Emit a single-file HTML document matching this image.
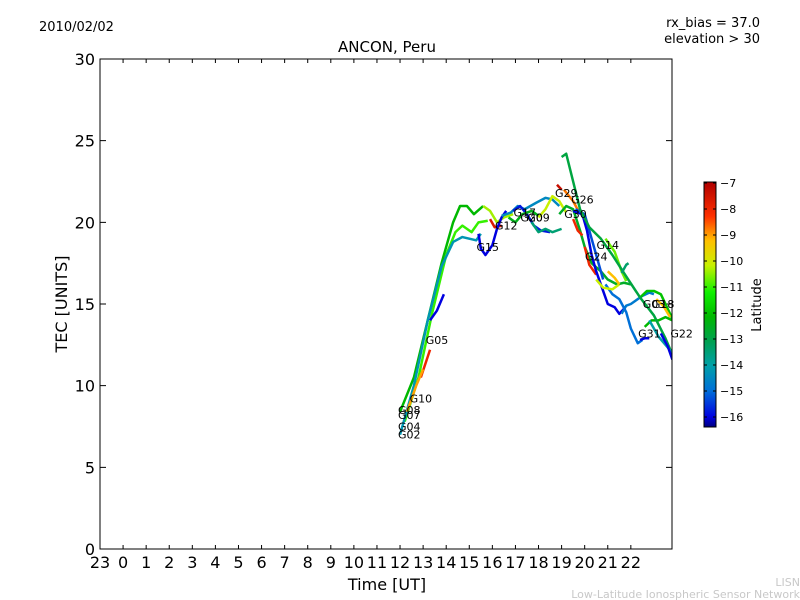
<!DOCTYPE html>
<html><head><meta charset="utf-8"><style>
body{margin:0;background:#fff;}
svg{display:block;font-family:"DejaVu Sans","Liberation Sans",sans-serif;}
</style></head><body>
<svg id="chart" width="800" height="600" viewBox="0 0 800 600">
<defs>
<linearGradient id="cbg" x1="0" y1="1" x2="0" y2="0">
<stop offset="0" stop-color="#00007f"/><stop offset="0.04" stop-color="#0000e0"/>
<stop offset="0.15" stop-color="#0070d8"/><stop offset="0.25" stop-color="#00a0a8"/>
<stop offset="0.35" stop-color="#00a050"/><stop offset="0.45" stop-color="#00b800"/>
<stop offset="0.55" stop-color="#10f000"/><stop offset="0.66" stop-color="#c8f000"/>
<stop offset="0.76" stop-color="#ffc000"/><stop offset="0.86" stop-color="#ff3000"/>
<stop offset="1" stop-color="#b00000"/></linearGradient>
<clipPath id="pc"><rect x="100" y="59" width="572" height="490"/></clipPath>
</defs>
<text x="39" y="31" font-size="13">2010/02/02</text>
<text x="760" y="27" font-size="13" text-anchor="end">rx_bias = 37.0</text>
<text x="760" y="43" font-size="13" text-anchor="end">elevation &gt; 30</text>
<text x="387" y="52" font-size="15" text-anchor="middle">ANCON, Peru</text>
<text x="387" y="590" font-size="16" text-anchor="middle">Time [UT]</text>
<text x="67" y="304" font-size="16" text-anchor="middle" transform="rotate(-90 67 304)">TEC [UNITS]</text>
<text x="800" y="586" font-size="11" fill="#c8c8c8" text-anchor="end">LISN</text>
<text x="800" y="598" font-size="11" fill="#c8c8c8" text-anchor="end">Low-Latitude Ionospheric Sensor Network</text>
<g id="axes"></g>
<g id="series" clip-path="url(#pc)"></g>
<g id="labels"></g>
<rect x="100" y="59" width="572" height="490" fill="none" stroke="#000" stroke-width="1"/>
<rect x="704" y="182" width="12" height="245" fill="url(#cbg)" stroke="#000" stroke-width="1"/>
<g id="cbticks"></g>
<text x="761" y="305" font-size="13" text-anchor="middle" transform="rotate(-90 761 305)">Latitude</text>
</svg>
<script>
const xTickLabels=["23","0","1","2","3","4","5","6","7","8","9","10","11","12","13","14","15","16","17","18","19","20","21","22"];
const yTicks=[0,5,10,15,20,25,30];
const cbTicks=[-7,-8,-9,-10,-11,-12,-13,-14,-15,-16];
const seriesLat=[-12.0,-10.2,-10.8,-7.5,-14.2,-16,-7.8,-8.8,-16,-14.5,-15.8,-13.4,-12.3,-10,-12.5,-7.3,-8.5,-7.8,-7.8,-16,-15.3,-14.8,-15,-16,-10,-9,-10.5,-11.8,-9,-12,-12.8,-14,-16,-13.3];
const seriesPts=[
[[12,8.4],[12.6,10.5],[13.2,14],[13.8,17.5],[14.3,20],[14.6,21],[14.9,21],[15.2,20.5],[15.6,21]],
[[15.6,21],[15.9,20.7],[16.2,20],[16.5,20.3],[16.9,20.5]],
[[12.2,7.8],[12.8,10.5],[13.4,14.5],[14,18],[14.4,19.4],[14.7,19.8],[15.1,19.4],[15.4,20],[15.8,20.1]],
[[15.9,20.2],[16.1,19.7],[16.4,19.8]],
[[12,7],[12.6,10],[13.2,14],[13.8,17.3],[14.3,18.8],[14.7,19.1],[15,19],[15.3,18.9],[15.5,19.3]],
[[13.3,14],[13.6,14.6],[13.9,15.6]],
[[12.9,10.5],[13.3,12.2]],
[[12.3,8.4],[12.7,10],[13,11]],
[[15.4,19.3],[15.5,18.4],[15.7,18],[16,18.6],[16.2,19.6],[16.4,20.3],[16.6,20.7]],
[[16.4,20.4],[16.8,20.6],[17.1,21],[17.4,20.8],[17.9,21.2],[18.3,21.5],[18.6,21.4],[18.9,21]],
[[16.9,20.7],[17.2,21],[17.5,20.5],[17.8,19.8],[18.1,19.5],[18.5,19.4]],
[[17.7,20],[18,19.4],[18.3,19.6],[18.6,19.4],[19,19.6]],
[[16.7,20.3],[17,20],[17.3,20.5],[17.7,20.7],[18,20.4]],
[[18,20.3],[18.3,20.8],[18.6,21.6],[18.9,21.3],[19.2,20.6]],
[[18.9,20.5],[19.2,21],[19.5,20.8],[19.8,19.5],[20,18.5],[20.3,17.5],[20.7,17],[21,16.5],[21.4,16.2],[21.7,16.3],[22,16.2]],
[[18.8,22.3],[19,22]],
[[19.1,22],[19.5,21.3],[19.8,20.5]],
[[19.5,20.2],[19.7,19.5],[19.9,19.2]],
[[20,18.5],[20.2,17.4],[20.5,16.8]],
[[19.5,20.7],[19.9,20.5],[20.1,19.5],[20.3,18],[20.5,17],[20.8,15.8],[21,15],[21.3,14.8],[21.5,14.4],[21.7,14.7]],
[[19.6,20.8],[20,20.5],[20.3,19],[20.6,17.5],[20.8,16.5]],
[[21.6,14.4],[21.8,14.9],[22,15],[22.2,15.2],[22.5,15.5],[22.8,15.7],[23,15.6]],
[[20.9,16.2],[21.2,15.6],[21.5,15.3],[21.8,14.5],[22,13.5],[22.3,12.6],[22.5,12.8]],
[[22.4,12.8],[22.6,12.9],[22.8,12.9]],
[[20.5,16.5],[20.8,16],[21.2,15.9],[21.5,16.2]],
[[21,17],[21.3,16.6],[21.5,16.2]],
[[20.9,19],[21.3,18.2],[21.6,17],[21.8,16.4]],
[[22.4,15.4],[22.7,15.8],[23,15.8],[23.3,15.6],[23.6,14.7],[23.8,14.1]],
[[23.1,15.3],[23.4,14.9],[23.7,14.2]],
[[22.6,13.6],[22.9,14],[23.2,14],[23.5,14.2],[23.8,14]],
[[19,24],[19.2,24.2],[19.5,22.5],[19.8,20.8],[20.2,19.7],[20.7,19],[21.2,18],[21.7,16.9],[22.4,15.4],[23,14.3],[23.5,12.9],[23.8,11.9]],
[[22.8,14],[23.2,13],[23.5,12.5],[23.8,12]],
[[23.3,13.2],[23.6,12.4],[23.8,11.6]],
[[21.6,16.9],[21.8,17.4],[21.9,17.5]]
];
const prnNames=["G02","G04","G07","G08","G10","G05","G15","G12","G17","G20","G09","G29","G26","G30","G14","G24","G03","G18","G31","G22"];
const prnPos=[[12,7],[12,7.5],[12,8.2],[12,8.5],[12.5,9.2],[13.2,12.8],[15.4,18.5],[16.2,19.8],[17,20.6],[17.3,20.3],[17.6,20.3],[18.8,21.8],[19.5,21.4],[19.2,20.5],[20.6,18.6],[20.1,17.9],[22.6,15],[23,15],[22.4,13.2],[23.8,13.2]];
const NS="http://www.w3.org/2000/svg";
function xp(h){return 100+(h+1)*23.08;}
function yp(v){return 549-v*16.333;}
function cbY(l){return 183+(-7-l)*26;}
const stops=[[-16.4,[0,0,127]],[-16,[0,0,224]],[-15,[0,112,216]],[-14,[0,160,168]],[-13,[0,160,80]],[-12,[0,184,0]],[-11,[16,240,0]],[-10,[200,240,0]],[-9,[255,192,0]],[-8,[255,48,0]],[-7,[176,0,0]]];
function col(l){for(let i=0;i<stops.length-1;i++){const a=stops[i],b=stops[i+1];if(l<=b[0]){const t=Math.max(0,(l-a[0])/(b[0]-a[0]));const c=a[1].map((v,k)=>Math.round(v+(b[1][k]-v)*t));return `rgb(${c})`;}}return 'rgb(176,0,0)';}
const ax=document.getElementById('axes');
xTickLabels.forEach((t,i)=>{const x=100+i*23.08;
 const l=document.createElementNS(NS,'path');l.setAttribute('d',`M${x} 549v-4M${x} 59v4`);l.setAttribute('stroke','#000');
 
 ax.appendChild(l);
 const tx=document.createElementNS(NS,'text');tx.setAttribute('x',x);tx.setAttribute('y',568);tx.setAttribute('font-size','16');tx.setAttribute('text-anchor','middle');tx.textContent=t;
 
 ax.appendChild(tx);});
yTicks.forEach(v=>{const y=yp(v);
 const l=document.createElementNS(NS,'path');l.setAttribute('d',`M100 ${y}h6M672 ${y}h-6`);l.setAttribute('stroke','#000');
 
 ax.appendChild(l);
 const tx=document.createElementNS(NS,'text');tx.setAttribute('x',95);tx.setAttribute('y',y+6);tx.setAttribute('font-size','16');tx.setAttribute('text-anchor','end');tx.textContent=v;
 
 ax.appendChild(tx);});
const sg=document.getElementById('series');
seriesPts.forEach((pts,i)=>{const p=document.createElementNS(NS,'polyline');
 p.setAttribute('points',pts.map(q=>xp(q[0])+','+yp(q[1])).join(' '));
 p.setAttribute('fill','none');p.setAttribute('stroke',col(seriesLat[i]));p.setAttribute('stroke-width','2.5');p.setAttribute('stroke-linejoin','round');
 
 sg.appendChild(p);});
const lg=document.getElementById('labels');
prnNames.forEach((n,i)=>{const t=document.createElementNS(NS,'text');t.setAttribute('x',xp(prnPos[i][0])-2);t.setAttribute('y',yp(prnPos[i][1])+4);t.setAttribute('font-size','11');t.textContent=n;
 
 lg.appendChild(t);});
const cb=document.getElementById('cbticks');
cbTicks.forEach(l=>{const y=cbY(l);
 const p=document.createElementNS(NS,'path');p.setAttribute('d',`M704 ${y}h3M716 ${y}h-3`);p.setAttribute('stroke','#000');
 
 cb.appendChild(p);
 const t=document.createElementNS(NS,'text');t.setAttribute('x',720);t.setAttribute('y',y+4);t.setAttribute('font-size','11');t.textContent='\u2212'+(-l);
 
 cb.appendChild(t);});
</script>
</body></html>
